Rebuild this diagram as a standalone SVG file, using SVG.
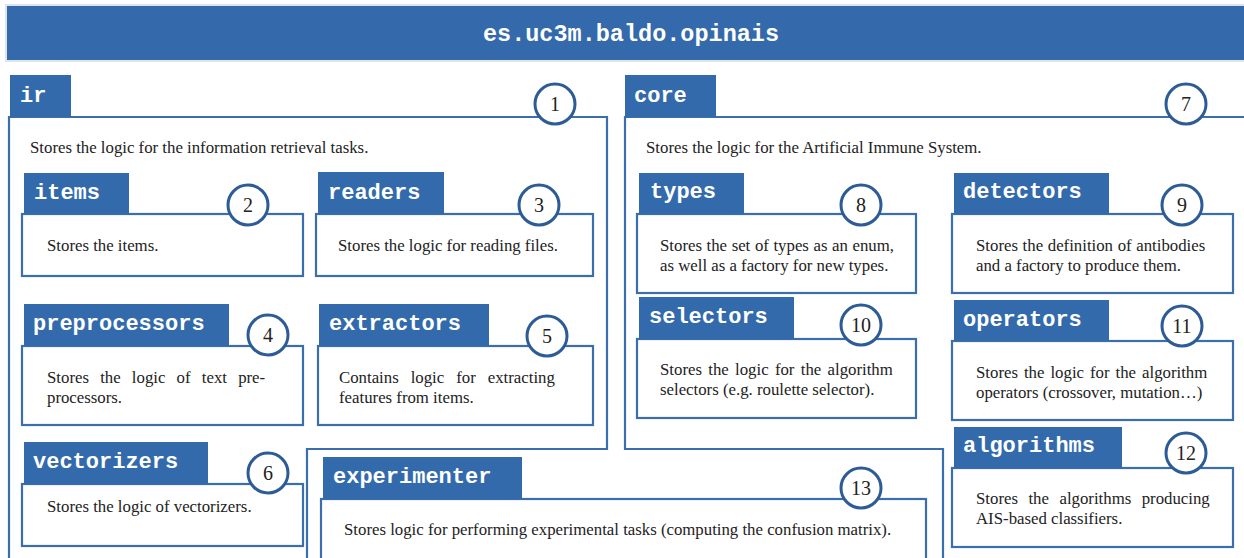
<svg xmlns="http://www.w3.org/2000/svg" width="1244" height="558" viewBox="0 0 1244 558">
<style>
.tab{fill:#336aab}
.box{fill:#fff;stroke:#3a6eae;stroke-width:2.2}
.pkg{fill:none;stroke:#3a6eae;stroke-width:2.2}
.lbl{font-family:"Liberation Mono","DejaVu Sans Mono",monospace;font-weight:bold;font-size:22px;fill:#fff}
.txt{font-family:"Liberation Serif","DejaVu Serif",serif;font-size:16.8px;fill:#222}
.num circle{fill:#fff;stroke:#2c5b96;stroke-width:3}
.num text{font-family:"Liberation Serif","DejaVu Serif",serif;font-size:20px;text-anchor:middle;fill:#222}
</style>
<rect x="0" y="0" width="1244" height="558" fill="#fff"/>
<g id="title">
<rect x="6" y="5" width="1240" height="56" fill="#346aab" stroke="#dfe4ea" stroke-width="2"/>
<text x="631" y="41" text-anchor="middle" font-family="'Liberation Mono','DejaVu Sans Mono',monospace" font-weight="bold" font-size="23.5" fill="#fff">es.uc3m.baldo.opinais</text>
</g>
<g id="connectors"/>
<g id="ir">
<path class="pkg" d="M9,560 V117 H607 V449 H307 V560"/>
<rect class="tab" x="10" y="75" width="61" height="42"/>
<text class="lbl" x="20" y="102">ir</text>
<text class="txt" x="30" y="153">Stores the logic for the information retrieval tasks.</text>
<g class="num"><circle cx="555" cy="104" r="20"/><text x="555" y="111">1</text></g>
</g>
<g id="core">
<path class="pkg" d="M1246,117 H625 V449 H943 V560"/>
<rect class="tab" x="625" y="75" width="91" height="42"/>
<text class="lbl" x="634" y="102">core</text>
<text class="txt" x="646" y="153">Stores the logic for the Artificial Immune System.</text>
<g class="num"><circle cx="1186" cy="104" r="20"/><text x="1186" y="111">7</text></g>
</g>
<g id="items">
<rect class="box" x="22" y="214" width="281" height="62"/>
<rect class="tab" x="24" y="173" width="105" height="41"/>
<text class="lbl" x="34" y="199">items</text>
<text class="txt" x="47" y="251">Stores the items.</text>
<g class="num"><circle cx="248" cy="205" r="20"/><text x="248" y="212">2</text></g>
</g>
<g id="readers">
<rect class="box" x="316" y="214" width="277" height="62"/>
<rect class="tab" x="318" y="172" width="126" height="42"/>
<text class="lbl" x="328" y="199">readers</text>
<text class="txt" x="338" y="251">Stores the logic for reading files.</text>
<g class="num"><circle cx="539" cy="205" r="20"/><text x="539" y="212">3</text></g>
</g>
<g id="preprocessors">
<rect class="box" x="22" y="346" width="281" height="79"/>
<rect class="tab" x="24" y="304" width="205" height="42"/>
<text class="lbl" x="33" y="330">preprocessors</text>
<text class="txt" x="47" y="383" word-spacing="7">Stores the logic of text pre-</text>
<text class="txt" x="47" y="403">processors.</text>
<g class="num"><circle cx="268" cy="335" r="20"/><text x="268" y="342">4</text></g>
</g>
<g id="extractors">
<rect class="box" x="318" y="346" width="275" height="79"/>
<rect class="tab" x="319" y="304" width="170" height="42"/>
<text class="lbl" x="329" y="330">extractors</text>
<text class="txt" x="339" y="383" word-spacing="7.8">Contains logic for extracting</text>
<text class="txt" x="339" y="403">features from items.</text>
<g class="num"><circle cx="547" cy="336" r="20"/><text x="547" y="343">5</text></g>
</g>
<g id="vectorizers">
<rect class="box" x="22" y="484" width="281" height="62"/>
<rect class="tab" x="24" y="442" width="184" height="42"/>
<text class="lbl" x="33" y="468">vectorizers</text>
<text class="txt" x="47" y="512">Stores the logic of vectorizers.</text>
<g class="num"><circle cx="268" cy="473" r="20"/><text x="268" y="480">6</text></g>
</g>
<g id="experimenter">
<rect class="box" x="321" y="499" width="605" height="70"/>
<rect class="tab" x="323" y="457" width="199" height="42"/>
<text class="lbl" x="333" y="483">experimenter</text>
<text class="txt" x="344" y="535">Stores logic for performing experimental tasks (computing the confusion matrix).</text>
<g class="num"><circle cx="861" cy="488" r="20"/><text x="861" y="495">13</text></g>
</g>
<g id="types">
<rect class="box" x="637" y="214" width="279" height="79"/>
<rect class="tab" x="639" y="173" width="105" height="41"/>
<text class="lbl" x="650" y="198">types</text>
<text class="txt" x="660" y="251" word-spacing="0.4">Stores the set of types as an enum,</text>
<text class="txt" x="660" y="271">as well as a factory for new types.</text>
<g class="num"><circle cx="861" cy="205" r="20"/><text x="861" y="212">8</text></g>
</g>
<g id="detectors">
<rect class="box" x="952" y="214" width="281" height="79"/>
<rect class="tab" x="954" y="173" width="155" height="41"/>
<text class="lbl" x="963" y="198">detectors</text>
<text class="txt" x="976" y="251" word-spacing="0.45">Stores the definition of antibodies</text>
<text class="txt" x="976" y="271">and a factory to produce them.</text>
<g class="num"><circle cx="1182" cy="205" r="20"/><text x="1182" y="212">9</text></g>
</g>
<g id="selectors">
<rect class="box" x="637" y="339" width="279" height="79"/>
<rect class="tab" x="639" y="297" width="155" height="42"/>
<text class="lbl" x="649" y="323">selectors</text>
<text class="txt" x="660" y="375" word-spacing="2.1">Stores the logic for the algorithm</text>
<text class="txt" x="660" y="395">selectors (e.g. roulette selector).</text>
<g class="num"><circle cx="861" cy="325" r="20"/><text x="861" y="332">10</text></g>
</g>
<g id="operators">
<rect class="box" x="952" y="341" width="281" height="79"/>
<rect class="tab" x="954" y="300" width="155" height="41"/>
<text class="lbl" x="963" y="326">operators</text>
<text class="txt" x="976" y="378" word-spacing="1.8">Stores the logic for the algorithm</text>
<text class="txt" x="976" y="398">operators (crossover, mutation…)</text>
<g class="num"><circle cx="1182" cy="326" r="20"/><text x="1182" y="333">11</text></g>
</g>
<g id="algorithms">
<rect class="box" x="952" y="468" width="281" height="79"/>
<rect class="tab" x="954" y="427" width="168" height="41"/>
<text class="lbl" x="963" y="452">algorithms</text>
<text class="txt" x="976" y="504" word-spacing="6.3">Stores the algorithms producing</text>
<text class="txt" x="976" y="524">AIS-based classifiers.</text>
<g class="num"><circle cx="1186" cy="453" r="20"/><text x="1186" y="460">12</text></g>
</g>
</svg>
